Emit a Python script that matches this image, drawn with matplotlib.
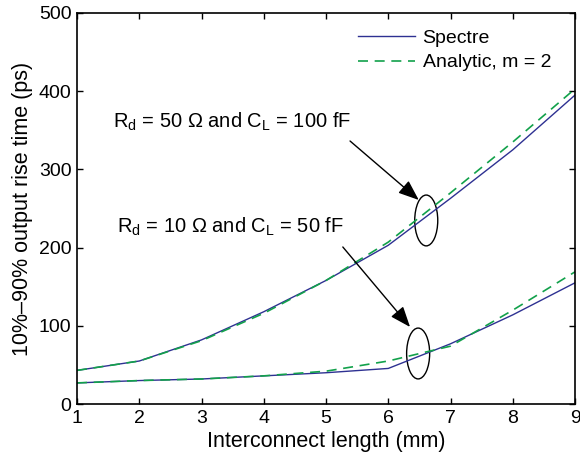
import matplotlib
matplotlib.use('Agg')
import matplotlib.pyplot as plt
from matplotlib.patches import Ellipse

plt.rcParams['font.family'] = ['Liberation Sans', 'DejaVu Sans']
plt.rcParams['mathtext.default'] = 'regular'

# interconnect length (mm)
length = [1, 2, 3, 4, 5, 6, 7, 8, 9]
# rise time (ps), Rd = 50 ohm, CL = 100 fF
spectre_hi = [43, 55, 82, 118, 158, 203, 263, 325, 395]
analytic_hi = [43, 55, 81, 116, 158, 207, 270, 335, 403]
# rise time (ps), Rd = 10 ohm, CL = 50 fF
spectre_lo = [27, 30, 32, 36, 40, 45.5, 77, 114, 155]
analytic_lo = [27, 30, 32, 36, 42, 55, 74, 120, 169]

blue = '#2e3192'
green = '#12a14b'

fig = plt.figure(figsize=(5.8, 4.62), dpi=100)
ax = fig.add_axes([0.1328, 0.1255, 0.8586, 0.8464])

ax.plot(length, spectre_hi, color=blue, lw=1.0, label='Spectre')
ax.plot(length, analytic_hi, color=green, lw=1.2, dashes=(6, 4), label='Analytic, m = 2')
ax.plot(length, spectre_lo, color=blue, lw=1.0)
ax.plot(length, analytic_lo, color=green, lw=1.2, dashes=(6, 4))

ax.set_xlim(1, 9)
ax.set_ylim(0, 500)
ax.set_xticks(range(1, 10))
ax.set_yticks(range(0, 501, 100))
ax.tick_params(direction='in', top=True, right=True, length=4, width=1, labelsize=14, pad=4)
for s in ax.spines.values():
    s.set_linewidth(1.2)

ax.set_xlabel('Interconnect length (mm)', fontsize=15.5, labelpad=3)
ax.set_ylabel('10%\u201390% output rise time (ps)', fontsize=15.5, labelpad=4)

ax.legend(loc='upper right', bbox_to_anchor=(0.952, 0.958), frameon=False, fontsize=14,
          handlelength=2.9, handletextpad=0.4, labelspacing=0.35, borderpad=0, borderaxespad=0)

ax.text(1.583, 353.8, r'R$_{d}$ = 50 Ω and C$_{L}$ = 100 fF', fontsize=14.5, va='baseline')
ax.text(1.637, 219, r'R$_{d}$ = 10 Ω and C$_{L}$ = 50 fF', fontsize=14.5, va='baseline')

ax.add_patch(Ellipse((6.61, 234.7), 0.37, 65, fill=False, ec='black', lw=1.0))
ax.add_patch(Ellipse((6.48, 64.6), 0.37, 65, fill=False, ec='black', lw=1.0))

arrow = dict(arrowstyle='-|>,head_length=0.9,head_width=0.35', color='black', lw=1.0,
             shrinkA=0, shrinkB=0, mutation_scale=14)
ax.annotate('', xy=(6.49, 260.9), xytext=(5.386, 336.3), arrowprops=arrow)
ax.annotate('', xy=(6.35, 98.5), xytext=(5.27, 200.8), arrowprops=arrow)

fig.savefig('out.png', dpi=100)
